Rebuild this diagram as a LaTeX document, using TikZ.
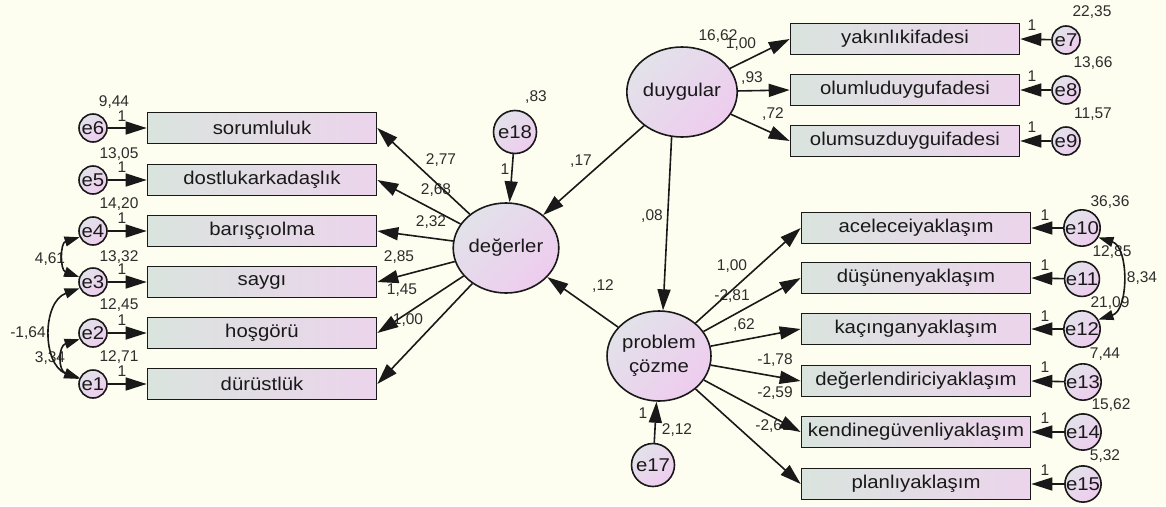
\documentclass[tikz,border=0pt]{standalone}
\usepackage{fontspec}
\setmainfont{Liberation Sans}
\newfontfamily\boxfont{Liberation Sans}[FakeStretch=1.1]
\usetikzlibrary{arrows.meta,shapes.geometric}
\definecolor{bg}{RGB}{254,254,240}
\definecolor{boxL}{RGB}{218,228,222}
\definecolor{boxR}{RGB}{236,212,236}
\definecolor{cirA}{RGB}{226,226,234}
\definecolor{cirB}{RGB}{238,204,238}
\definecolor{ink}{RGB}{25,25,25}
\definecolor{labc}{RGB}{45,45,45}
\begin{document}
\begin{tikzpicture}[x=1pt,y=-1pt,
  obs/.style={draw=ink, line width=1.6pt, rectangle, minimum width=229pt,
    minimum height=31pt, inner sep=0pt, left color=boxL, right color=boxR,
    text=ink, font=\boxfont\fontsize{18.5}{20}\selectfont},
  lat/.style={draw=ink, line width=1.6pt, ellipse, minimum width=101pt,
    minimum height=90pt, inner sep=0pt, top color=cirA, bottom color=cirB,
    shading angle=45, text=ink, align=center,
    font=\boxfont\fontsize{18.5}{24}\selectfont},
  err/.style={draw=ink, line width=1.6pt, circle, minimum size=28pt,
    inner sep=0pt, top color=cirA, bottom color=cirB, shading angle=45,
    text=ink, font=\boxfont\fontsize{18.5}{20}\selectfont},
  arr/.style={-{Triangle[length=21pt,width=13pt]}, line width=1.6pt, draw=ink},
  cov/.style={{Triangle[length=15pt,width=10pt]}-{Triangle[length=15pt,width=10pt]},
    line width=1.6pt, draw=ink},
  lab/.style={font=\fontsize{15.5}{16}\selectfont, text=labc, inner sep=0pt},
]
% canvas
\fill[bg] (0,0) rectangle (1166,506);
\useasboundingbox (0,0) rectangle (1166,506);

% latent variables
\node[lat] (deg) at (506,248) {değerler};
\node[lat] (duy) at (682,92) {duygular};
\node[lat] (pc)  at (659,356) {problem\\çözme};
\node[err, minimum size=43pt] (e18) at (515,132) {e18};
\node[err, minimum size=43pt] (e17) at (653,465) {e17};

% indicators of değerler
\node[obs] (sor) at (262,128) {sorumluluk};
\node[obs] (dos) at (262,180) {dostlukarkadaşlık};
\node[obs] (bar) at (262,231) {barışçıolma};
\node[obs] (say) at (262,282) {saygı};
\node[obs] (hos) at (262,333) {hoşgörü};
\node[obs] (dur) at (262,384) {dürüstlük};
\node[err] (e6) at (93,128) {e6};
\node[err] (e5) at (93,180) {e5};
\node[err] (e4) at (93,231) {e4};
\node[err] (e3) at (93,282) {e3};
\node[err] (e2) at (93,333) {e2};
\node[err] (e1) at (93,384) {e1};

% indicators of duygular
\node[obs] (yak) at (905,39) {yakınlıkifadesi};
\node[obs] (olm) at (905,90) {olumluduygufadesi};
\node[obs] (ols) at (905,141) {olumsuzduyguifadesi};
\node[err] (e7) at (1066,40) {e7};
\node[err] (e8) at (1066,90) {e8};
\node[err] (e9) at (1066,141) {e9};

% indicators of problem çözme
\node[obs] (ace) at (916,228) {aceleceiyaklaşım};
\node[obs] (dus) at (916,278) {düşünenyaklaşım};
\node[obs] (kac) at (916,329) {kaçınganyaklaşım};
\node[obs] (dgl) at (916,381) {değerlendiriciyaklaşım};
\node[obs] (ken) at (916,432) {kendinegüvenliyaklaşım};
\node[obs] (pla) at (916,484) {planlıyaklaşım};
\node[err] (e10) at (1082,228) {e10};
\node[err] (e11) at (1082,279) {e11};
\node[err] (e12) at (1082,329) {e12};
\node[err] (e13) at (1083,382) {e13};
\node[err] (e14) at (1083,432) {e14};
\node[err] (e15) at (1083,484) {e15};

% estimates
\node[lab] at (114,102) {9,44};  \node[lab] at (122,116) {1};
\node[lab] at (119,154) {13,05}; \node[lab] at (122,167) {1};
\node[lab] at (119,204) {14,20}; \node[lab] at (122,218) {1};
\node[lab] at (119,257) {13,32}; \node[lab] at (122,269) {1};
\node[lab] at (119,305) {12,45}; \node[lab] at (122,320) {1};
\node[lab] at (119,357) {12,71}; \node[lab] at (122,371) {1};
\node[lab] at (50,259) {4,61};
\node[lab] at (28,333) {-1,64};
\node[lab] at (50,358) {3,34};

\node[lab] at (441,160) {2,77};
\node[lab] at (436,190) {2,68};
\node[lab] at (431,222) {2,32};
\node[lab] at (399,257) {2,85};
\node[lab] at (402,290) {1,45};
\node[lab] at (408,320) {1,00};
\node[lab] at (536,97) {,83};
\node[lab] at (505,169) {1};
\node[lab] at (581,161) {,17};
\node[lab] at (652,216) {,08};
\node[lab] at (603,286) {,12};

\node[lab] at (718,36) {16,62};
\node[lab] at (741,44) {1,00};
\node[lab] at (752,78) {,93};
\node[lab] at (773,114) {,72};
\node[lab] at (1092,12) {22,35}; \node[lab] at (1032,25) {1};
\node[lab] at (1093,63) {13,66}; \node[lab] at (1032,76) {1};
\node[lab] at (1093,114) {11,57};\node[lab] at (1032,127) {1};

\node[lab] at (732,266) {1,00};
\node[lab] at (732,296) {-2,81};
\node[lab] at (744,325) {,62};
\node[lab] at (775,360) {-1,78};
\node[lab] at (775,393) {-2,59};
\node[lab] at (773,426) {-2,61};
\node[lab] at (643,413) {1};
\node[lab] at (677,430) {2,12};
\node[lab] at (1110,202) {36,36}; \node[lab] at (1045,215) {1};
\node[lab] at (1112,252) {12,85}; \node[lab] at (1045,265) {1};
\node[lab] at (1110,303) {21,09}; \node[lab] at (1045,316) {1};
\node[lab] at (1142,278) {8,34};
\node[lab] at (1105,354) {7,44};  \node[lab] at (1045,367) {1};
\node[lab] at (1111,405) {15,62}; \node[lab] at (1045,418) {1};
\node[lab] at (1105,456) {5,32};  \node[lab] at (1045,470) {1};

% structural paths
\draw[arr] (duy) -- (deg);
\draw[arr] (duy.257) -- (pc.85);
\draw[arr] (pc) -- (deg);
\draw[arr] (e18) -- (deg);
\draw[arr] (e17) -- (pc);

% loadings
\foreach \b in {sor,dos,bar,say,hos,dur} \draw[arr] (deg) -- (\b.east);
\foreach \b in {yak,olm,ols} \draw[arr] (duy) -- (\b.west);
\foreach \b in {ace,dus,kac,dgl,ken,pla} \draw[arr] (pc) -- (\b.west);

% measurement errors
\draw[arr] (e6) -- (sor.west);
\draw[arr] (e5) -- (dos.west);
\draw[arr] (e4) -- (bar.west);
\draw[arr] (e3) -- (say.west);
\draw[arr] (e2) -- (hos.west);
\draw[arr] (e1) -- (dur.west);
\draw[arr] (e7) -- (yak.east);
\draw[arr] (e8) -- (olm.east);
\draw[arr] (e9) -- (ols.east);
\draw[arr] (e10) -- (ace.east);
\draw[arr] (e11) -- (dus.east);
\draw[arr] (e12) -- (kac.east);
\draw[arr] (e13) -- (dgl.east);
\draw[arr] (e14) -- (ken.east);
\draw[arr] (e15) -- (pla.east);

% error covariances
\draw[cov] (e4.205) .. controls (60,243) and (60,270) .. (e3.160);
\draw[cov] (e3.205) .. controls (42,302) and (42,364) .. (e1.160);
\draw[cov] (e2.205) .. controls (58,346) and (58,371) .. (e1.155);
\draw[cov] (e10.-30) .. controls (1129,247) and (1129,310) .. (e12.30);
\end{tikzpicture}
\end{document}
